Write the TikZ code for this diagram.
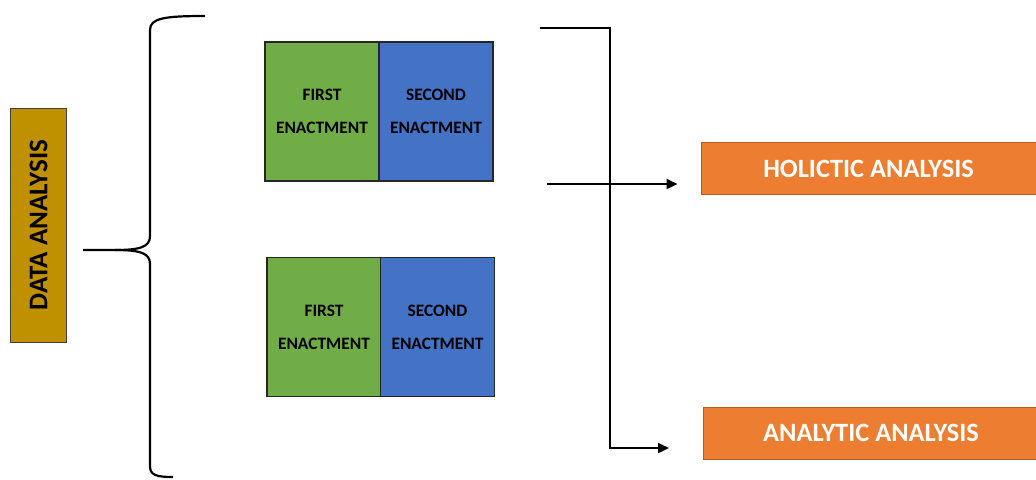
\documentclass[tikz,border=0pt]{standalone}
\usepackage{fontspec}
\setmainfont{Carlito}
\usetikzlibrary{arrows.meta}
\definecolor{goldbox}{HTML}{BF9000}
\definecolor{greenbox}{HTML}{70AD47}
\definecolor{bluebox}{HTML}{4472C4}
\definecolor{orangebox}{HTML}{ED7D31}
\definecolor{orangeline}{HTML}{B85C1E}
\tikzset{
  enact/.style={draw=black!85,line width=0.6pt,minimum width=57pt,minimum height=69.5pt,
    inner sep=0pt,align=center,font=\fontsize{8.7}{16.5}\selectfont\bfseries},
  result/.style={fill=orangebox,draw=orangeline,line width=0.5pt,text=white,
    minimum width=167.5pt,minimum height=26pt,font=\fontsize{13.2}{15}\selectfont\bfseries},
  link/.style={line width=1.1pt,line cap=rect}
}
\begin{document}
\begin{tikzpicture}[x=0.5pt,y=-0.5pt,>={Triangle[length=5.5pt,width=5pt]}]
  \useasboundingbox (0,0) rectangle (1036,479);
  % main heading
  \node[fill=goldbox,draw=black!75,line width=0.5pt,rotate=90,minimum width=117pt,minimum height=28pt,
    font=\fontsize{13.5}{15}\selectfont\bfseries] (data) at (38.5,225) {DATA ANALYSIS};
  % brace
  \draw[line width=1.1pt] (205,16) .. controls (165,16) and (150,18) .. (150,30) -- (150,236)
    .. controls (150,247) and (140,250) .. (115,250) -- (83,250);
  \draw[line width=1.1pt] (115,250) .. controls (140,250) and (150,253) .. (150,264) -- (150,466)
    .. controls (150,475) and (156,477) .. (173,477);
  % enactments
  \node[enact,fill=greenbox] (first1) at (322,111.5) {FIRST\\ENACTMENT};
  \node[enact,fill=bluebox] (second1) at (436,111.5) {SECOND\\ENACTMENT};
  \node[enact,fill=greenbox] (first2) at (324,327) {FIRST\\ENACTMENT};
  \node[enact,fill=bluebox] (second2) at (437.5,327) {SECOND\\ENACTMENT};
  % results
  \node[result] (holistic) at (868.5,168.5) {HOLICTIC ANALYSIS};
  \node[result] (analytic) at (871,433) {ANALYTIC ANALYSIS};
  % connectors
  \coordinate (topend) at (541,28);
  \coordinate (corner) at (610,448);
  \coordinate (midstart) at (548,184);
  \draw[link,->] (topend) -- (topend -| corner) -- (corner)
    -- ([xshift=-17pt]analytic.west |- corner);
  \draw[link,->] (midstart) -- ([xshift=-11.5pt]holistic.west |- midstart);
\end{tikzpicture}
\end{document}
